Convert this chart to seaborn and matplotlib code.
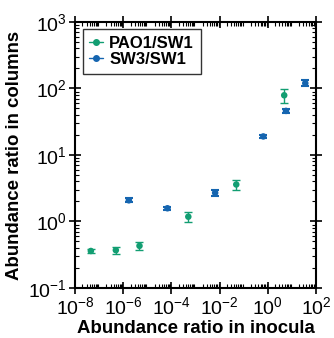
import numpy as np
import pandas as pd
import seaborn as sns
import matplotlib
matplotlib.use("Agg")
import matplotlib.pyplot as plt
from matplotlib.lines import Line2D
from matplotlib.ticker import LogLocator, NullFormatter

#%% data

pao_x = [4.5e-8, 4.9e-7, 4.7e-6, 5.0e-4, 0.049, 4.8]
pao_y = [0.36, 0.37, 0.43, 1.18, 3.6, 79]
pao_lo = [0.02, 0.05, 0.06, 0.21, 0.6, 19]
pao_hi = [0.02, 0.05, 0.06, 0.22, 0.6, 19]

sw3_x = [1.7e-6, 6.8e-5, 6.5e-3, 0.65, 5.7, 36]
sw3_y = [2.08, 1.58, 2.7, 19, 46, 120]
sw3_lo = [0.15, 0.08, 0.3, 1.3, 3.5, 12]
sw3_hi = [0.15, 0.08, 0.3, 1.3, 3.5, 12]

green = "#129e72"
blue = "#1565b0"

df = pd.concat([
    pd.DataFrame({"x": pao_x, "y": pao_y, "series": "PAO1/SW1"}),
    pd.DataFrame({"x": sw3_x, "y": sw3_y, "series": "SW3/SW1"}),
])

#%% plot

sns.set_style("ticks")
plt.rcParams["font.family"] = ["Liberation Sans", "DejaVu Sans"]
for k in ["text.color", "axes.labelcolor", "xtick.color", "ytick.color", "axes.edgecolor"]:
    plt.rcParams[k] = "black"

fig, ax = plt.subplots(figsize=(3.34, 3.38), dpi=100)
fig.subplots_adjust(left=0.225, right=0.946, top=0.935, bottom=0.148)

ax.errorbar(pao_x, pao_y, yerr=[pao_lo, pao_hi], fmt="none", ecolor=green,
            elinewidth=1, capsize=3, capthick=1, zorder=2)
ax.errorbar(sw3_x, sw3_y, yerr=[sw3_lo, sw3_hi], fmt="none", ecolor=blue,
            elinewidth=1.5, capsize=3, capthick=1.5, zorder=2)

sns.scatterplot(data=df, x="x", y="y", hue="series",
                palette={"PAO1/SW1": green, "SW3/SW1": blue},
                s=22, edgecolor="none", ax=ax, zorder=3, legend=False)

ax.set_xscale("log")
ax.set_yscale("log")
ax.set_xlim(1e-8, 1e2)
ax.set_ylim(1e-1, 1e3)
ax.set_xticks([1e-8, 1e-6, 1e-4, 1e-2, 1e0, 1e2])
ax.xaxis.set_minor_locator(LogLocator(base=10, subs=np.arange(2, 10), numticks=100))
ax.xaxis.set_minor_formatter(NullFormatter())
ax.yaxis.set_minor_locator(LogLocator(base=10, subs=np.arange(2, 10), numticks=100))
ax.yaxis.set_minor_formatter(NullFormatter())

ax.tick_params(which="major", direction="inout", length=8, width=1.2,
               labelsize=14, top=True, right=True, pad=2)
ax.tick_params(which="minor", direction="in", length=3, width=0.8,
               top=True, right=True)
for s in ax.spines.values():
    s.set_linewidth(1.5)

ax.set_xlabel("Abundance ratio in inocula", fontsize=13.4, fontweight="bold", labelpad=1)
ax.set_ylabel("Abundance ratio in columns", fontsize=13.4, fontweight="bold", labelpad=4)

handles = [Line2D([], [], color=green, marker="o", markersize=4, lw=1),
           Line2D([], [], color=blue, marker="o", markersize=4, lw=1)]
leg = ax.legend(handles, ["PAO1/SW1", "SW3/SW1"], loc="upper left", fontsize=12,
                frameon=True, fancybox=False, edgecolor="black",
                handletextpad=0.4, borderpad=0.4, borderaxespad=0.45,
                labelspacing=0.05, handlelength=0.8)
leg.get_frame().set_linewidth(1.0)
for t in leg.get_texts():
    t.set_fontweight("bold")

plt.savefig("out.png", dpi=100)
